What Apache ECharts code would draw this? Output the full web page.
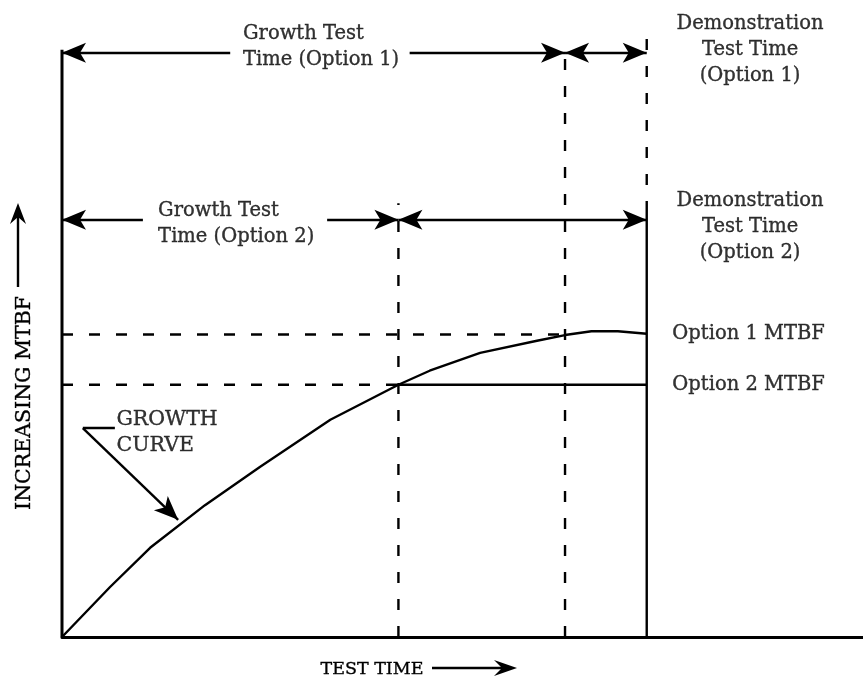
<!DOCTYPE html>
<html><head><meta charset="utf-8">
<script src="https://cdn.jsdelivr.net/npm/echarts@6/dist/echarts.min.js"></script>
<style>html,body{margin:0;padding:0;background:#fff}#c{width:863px;height:679px}</style>
</head><body><div id="c"></div>
<script>
// Growth curve (test time, MTBF) in arbitrary units
const curveX = [0, 6.0, 11.0, 17.85, 24.7, 33.5, 42.0, 45.9, 52.2, 59.3, 62.8, 66.1, 69.4, 73.0];
const curveY = [0, 7.85, 14.0, 20.7, 26.7, 34.1, 39.6, 41.8, 44.6, 46.5, 47.4, 48.0, 48.0, 47.6];
// key times and MTBF levels
const growthEnd2 = 42.0;   // end of growth test, option 2
const growthEnd1 = 62.8;   // end of growth test, option 1
const demoEnd = 73.0;      // end of demonstration test
const mtbf1 = 47.5;
const mtbf2 = 39.6;
const arrowLevel1 = 91.7;
const arrowLevel2 = 65.5;
const axisTop = 92.2;
// texts
const growthText1 = 'Growth Test\nTime (Option 1)';
const growthText2 = 'Growth Test\nTime (Option 2)';
const demoText1 = 'Demonstration\nTest Time\n(Option 1)';
const demoText2 = 'Demonstration\nTest Time\n(Option 2)';
const mtbfText1 = 'Option 1 MTBF';
const mtbfText2 = 'Option 2 MTBF';
const curveText = 'GROWTH\nCURVE';
const yTitle = 'INCREASING MTBF';
const xTitle = 'TEST TIME';

const FONT = 'DejaVu Serif';
const FS = 19.5;
const solid = {color:'#000', width:2.4, type:'solid'};
const dashed = {color:'#000', width:2.4, type:[11,16]};

function seg(name, pts, style){
  return {type:'line', name, data:pts, symbol:'none', lineStyle:style, silent:true, animation:false, clip:false, z:3};
}
function arrow(a, b, sa, sb){
  return [{coord:a, symbol:sa}, {coord:b, symbol:sb}];
}
function note(text, pos, align, size){
  return {value:pos, label:{show:true, formatter:text, position:'inside', align:align, verticalAlign:'middle',
    fontFamily:FONT, fontSize:size || FS, lineHeight:26, color:'#000', textBorderColor:'#000', textBorderWidth:0.35}};
}

const chart = echarts.init(document.getElementById('c'), null, {renderer:'canvas'});
chart.setOption({
  animation:false,
  backgroundColor:'#fff',
  grid:{left:62, right:0, top:0, bottom:42},
  xAxis:{type:'value', min:0, max:100, axisLine:{show:true, lineStyle:{color:'#000', width:3}}, axisTick:{show:false}, axisLabel:{show:false}, splitLine:{show:false}},
  yAxis:{type:'value', min:0, max:100, show:false},
  series:[
    {type:'line', data:[[0,0],[0,axisTop]], symbol:'none', lineStyle:{color:'#000', width:3}, silent:true, clip:false, z:3},
    seg('curve', curveX.map((x,i)=>[x,curveY[i]]), solid),
    seg('opt2flat', [[growthEnd2,mtbf2],[demoEnd,mtbf2]], solid),
    seg('demoSolid', [[demoEnd,0],[demoEnd,66.7]], solid),
    seg('demoDash', [[demoEnd,66.7],[demoEnd,95.6]], dashed),
    seg('g2dash', [[growthEnd2,0],[growthEnd2,68.1]], dashed),
    seg('g1dash', [[growthEnd1,0],[growthEnd1,93.2]], dashed),
    seg('m1dash', [[0,mtbf1],[growthEnd1,mtbf1]], dashed),
    seg('m2dash', [[0,mtbf2],[growthEnd2,mtbf2]], dashed),
    seg('leader', [[6.6,32.8],[2.6,32.8]], solid),
    {type:'line', data:[], symbol:'none', silent:true,
      markLine:{silent:true, animation:false, symbolSize:[15,24], label:{show:false}, lineStyle:solid, emphasis:{disabled:true},
        data:[
          arrow([0,arrowLevel1],[21.0,arrowLevel1],'arrow','none'),
          arrow([43.4,arrowLevel1],[growthEnd1,arrowLevel1],'none','arrow'),
          arrow([growthEnd1,arrowLevel1],[demoEnd,arrowLevel1],'arrow','arrow'),
          arrow([0,arrowLevel2],[10.1,arrowLevel2],'arrow','none'),
          arrow([33.1,arrowLevel2],[growthEnd2,arrowLevel2],'none','arrow'),
          arrow([growthEnd2,arrowLevel2],[demoEnd,arrowLevel2],'arrow','arrow'),
          arrow([2.6,32.8],[14.5,18.4],'none','arrow')
        ]}},
    {type:'scatter', symbolSize:0, silent:true, clip:false, z:5,
      data:[
        note(growthText1,[22.6,92.6],'left'),
        note(growthText2,[12.0,64.8],'left'),
        note(demoText1,[85.9,92.2],'center'),
        note(demoText2,[85.9,64.4],'center'),
        note(mtbfText1,[76.2,47.6],'left'),
        note(mtbfText2,[76.2,39.5],'left'),
        note(curveText,[6.8,32.0],'left', 20.5)
      ]}
  ],
  graphic:[
    {type:'text', x:25, y:403, rotation:Math.PI/2, style:{text:yTitle, fontFamily:FONT, fontSize:20.5, fill:'#000', stroke:'#000', lineWidth:0.35, align:'center', verticalAlign:'middle'}},
    {type:'line', shape:{x1:18, y1:287, x2:18, y2:212}, style:{stroke:'#000', lineWidth:2.4}},
    {type:'polygon', shape:{points:[[18,203],[10,224],[18,217],[26,224]]}, style:{fill:'#000'}},
    {type:'text', x:372, y:669, style:{text:xTitle, fontFamily:FONT, fontSize:17.5, fill:'#000', stroke:'#000', lineWidth:0.35, align:'center', verticalAlign:'middle'}},
    {type:'line', shape:{x1:432, y1:668, x2:508, y2:668}, style:{stroke:'#000', lineWidth:2.4}},
    {type:'polygon', shape:{points:[[517,668],[494,660],[502,668],[494,676]]}, style:{fill:'#000'}}
  ]
});
</script></body></html>
